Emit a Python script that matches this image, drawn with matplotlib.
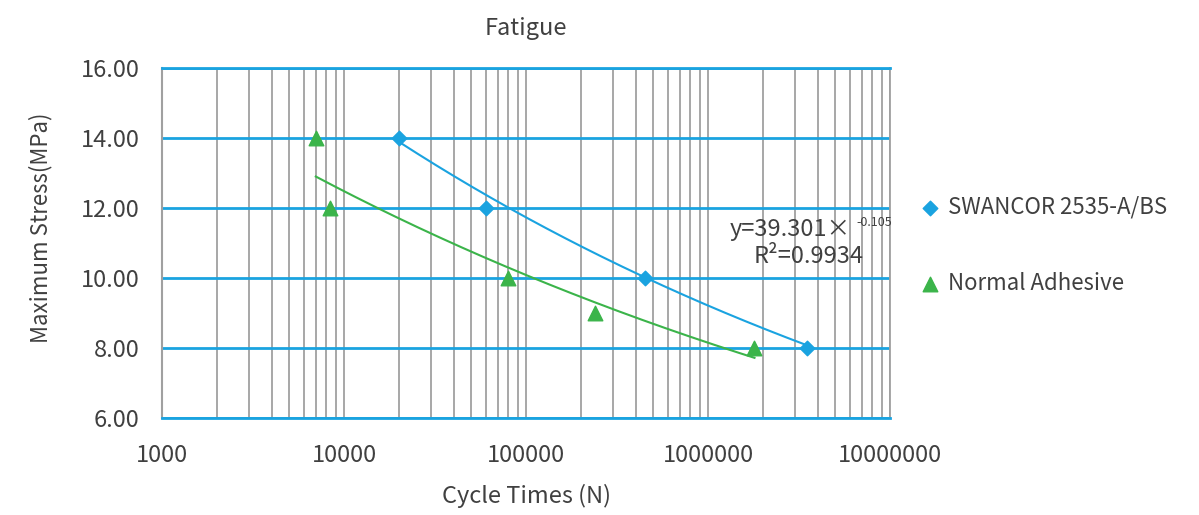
import numpy as np
import matplotlib.pyplot as plt
from matplotlib.ticker import FixedLocator, LogLocator, NullFormatter

plt.rcParams['font.family'] = ['Noto Sans CJK SC', 'DejaVu Sans']

# Data
swancor_cycles = [20000, 60000, 450000, 3500000]
swancor_stress = [14.0, 12.0, 10.0, 8.0]
normal_cycles = [7000, 8400, 80000, 240000, 1800000]
normal_stress = [14.0, 12.0, 10.0, 9.0, 8.0]

# Power-law trendline reported on the chart for SWANCOR
fit_a = 39.301
fit_b = -0.105
fit_label = 'y=39.301×'
fit_exp = '-0.105'
r2_label = 'R²=0.9934'

y_ticks = [6, 8, 10, 12, 14, 16]
x_ticks = [1e3, 1e4, 1e5, 1e6, 1e7]
x_tick_labels = ['1000', '10000', '100000', '1000000', '10000000']

blue = '#1AA3E0'
green = '#3BB44A'
grid_grey = '#A0A0A0'
text_col = '#404040'

fig = plt.figure(figsize=(11.99, 5.15), dpi=100)
ax = fig.add_axes([0.1351, 0.1883, 0.6072, 0.6797])

ax.set_xscale('log')
ax.set_xlim(1e3, 1e7)
ax.set_ylim(6, 16)

# vertical grey grid at every log step, horizontal blue grid
ax.xaxis.set_major_locator(FixedLocator(x_ticks))
ax.xaxis.set_minor_locator(LogLocator(base=10, subs=np.arange(2, 10)))
ax.xaxis.set_minor_formatter(NullFormatter())
ax.set_xticks(x_ticks)
ax.set_xticklabels(x_tick_labels)
ax.set_yticks(y_ticks)
ax.set_yticklabels([f'{v:.2f}' for v in y_ticks])
ax.grid(True, axis='x', which='both', color=grid_grey, lw=1.3, zorder=0)
ax.grid(True, axis='y', which='major', color=blue, lw=2, zorder=0)
ax.set_axisbelow(True)

ax.tick_params(axis='both', which='both', length=0, labelsize=17, colors=text_col)
ax.tick_params(axis='y', pad=16)
ax.tick_params(axis='x', pad=19)

for s in ['top', 'bottom']:
    ax.spines[s].set_color(blue)
    ax.spines[s].set_linewidth(2)
ax.spines['left'].set_color(grid_grey)
ax.spines['left'].set_linewidth(1.5)
ax.spines['right'].set_color(grid_grey)
ax.spines['right'].set_linewidth(1.3)

# trendlines
xb = np.logspace(np.log10(swancor_cycles[0]), np.log10(swancor_cycles[-1]), 200)
ax.plot(xb, fit_a * xb ** fit_b, color=blue, lw=1.5, zorder=2)

slope, icpt = np.polyfit(np.log(normal_cycles), np.log(normal_stress), 1)
xg = np.logspace(np.log10(normal_cycles[0]), np.log10(normal_cycles[-1]), 200)
ax.plot(xg, np.exp(icpt) * xg ** slope, color=green, lw=1.5, zorder=2)

# points
ax.scatter(swancor_cycles, swancor_stress, marker='D', s=55, color=blue,
           zorder=3, label='SWANCOR 2535-A/BS')
ax.scatter(normal_cycles, normal_stress, marker='^', s=110, color=green,
           zorder=3, label='Normal Adhesive')

# equation text
ax.text(1.32e6, 11.4, fit_label, fontsize=17, color=text_col, ha='left', va='center')
ax.text(6.5e6, 11.6, fit_exp, fontsize=9, color=text_col, ha='left', va='center')
ax.text(3.55e6, 10.62, r2_label, fontsize=17, color=text_col, ha='center', va='center')

ax.set_title('Fatigue', fontsize=17, color=text_col, pad=24)
ax.set_xlabel('Cycle Times (N)', fontsize=17, color=text_col, labelpad=12)
ax.set_ylabel('Maximum Stress(MPa)', fontsize=16, color=text_col)
ax.yaxis.set_label_coords(-0.150, 0.543)

fig.legend(loc='center left', bbox_to_anchor=(0.757, 0.524), frameon=False,
           fontsize=16, labelcolor=text_col, labelspacing=2.4,
           handletextpad=0.3, handlelength=1.0, borderpad=0)

fig.savefig('out.png', dpi=100)
